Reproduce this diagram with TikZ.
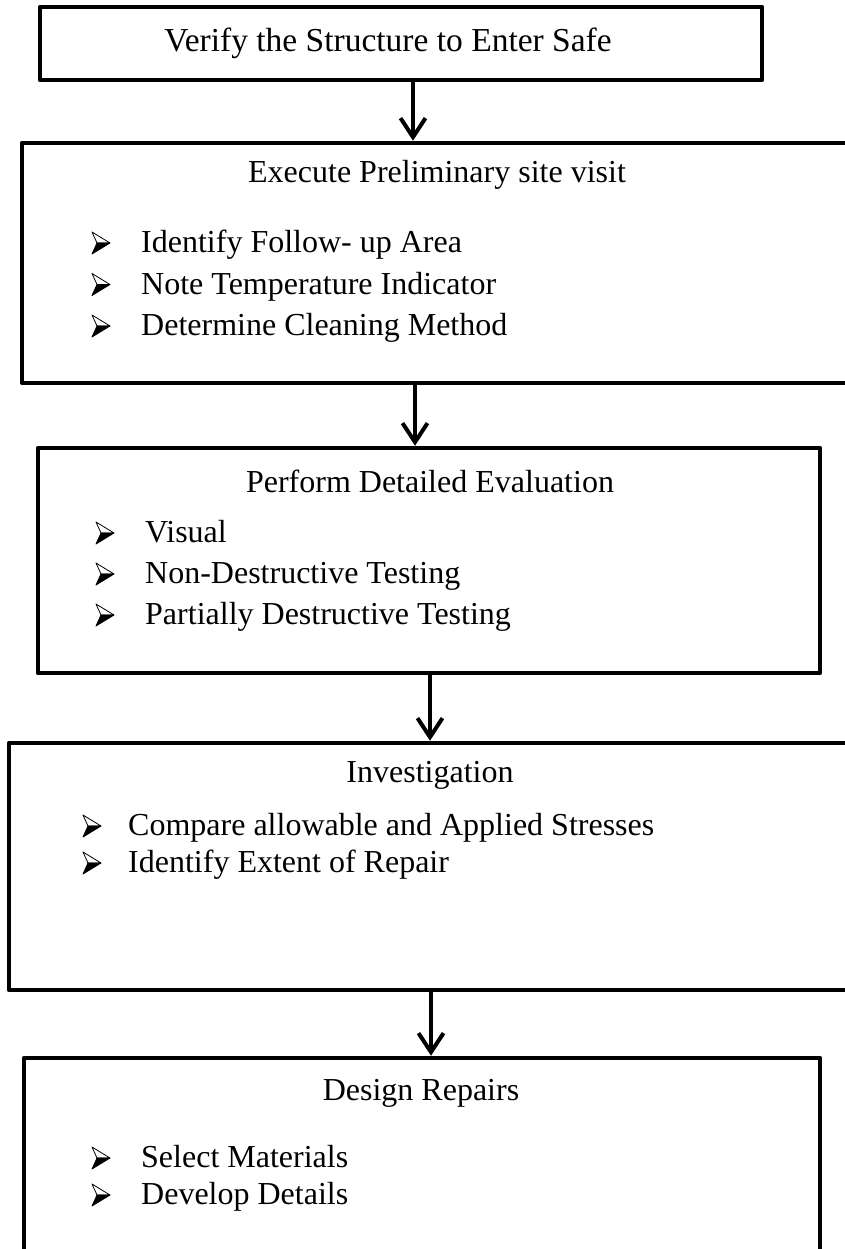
\documentclass[tikz,border=0pt]{standalone}
\usepackage{fontspec}
\setmainfont{Liberation Serif}
\usetikzlibrary{arrows.meta}
\tikzset{
  stage/.style={draw, line width=4.5pt, line join=round, inner sep=0pt},
  heading/.style={inner sep=0pt, font=\fontsize{32}{38}\selectfont},
  item/.style={anchor=west, inner sep=0pt, font=\fontsize{32}{38}\selectfont, text height=22pt, text depth=7pt},
  flow/.style={-{Straight Barb[length=19pt, width=25pt]}, line width=4pt},
  arrowbullet/.pic={
    \filldraw[fill=white, line width=0.8pt, line join=round] (-9,-11) -- (9,0) -- (-4,0) -- cycle;
    \filldraw[line width=0.8pt, line join=round] (-4,0) -- (9,0) -- (-9,11) -- cycle;
  }
}
\begin{document}
\begin{tikzpicture}[x=1pt, y=-1pt]
    \useasboundingbox (0,0) rectangle (845,1249);
    \clip (0,0) rectangle (845,1249);
    % stage boxes
    \node[stage, minimum width=722pt, minimum height=73pt] (verify) at (401,43.5) {};
    \node[stage, minimum width=848pt, minimum height=240pt] (visit) at (446,263) {};
    \node[stage, minimum width=782pt, minimum height=225pt] (evaluation) at (429,560.5) {};
    \node[stage, minimum width=861pt, minimum height=247pt] (investigation) at (439.5,866.5) {};
    \node[stage, minimum width=796pt, minimum height=232pt] (design) at (422,1174) {};
    % headings
    \node[heading, font=\fontsize{33.5}{40}\selectfont] (verify-t) at (388,43) {Verify the Structure to Enter Safe};
    \node[heading] (visit-t) at (437,175) {Execute Preliminary site visit};
    \node[heading] (evaluation-t) at (430,481) {Perform Detailed Evaluation};
    \node[heading] (investigation-t) at (430,775) {Investigation};
    \node[heading] (design-t) at (421,1093) {Design Repairs};
    % bullet lists
    \foreach \txt [count=\i] in {Identify Follow- up Area, Note Temperature Indicator, Determine Cleaning Method}{
        \node[item] (visit-\i) at (141,203.5+41.5*\i) {\txt};
        \pic at ([xshift=-40pt, yshift=2pt]visit-\i.west) {arrowbullet};
    }
    \foreach \txt [count=\i] in {Visual, Non-Destructive Testing, Partially Destructive Testing}{
        \node[item] (evaluation-\i) at (145,494+41*\i) {\txt};
        \pic at ([xshift=-40pt, yshift=2pt]evaluation-\i.west) {arrowbullet};
    }
    \foreach \txt [count=\i] in {Compare allowable and Applied Stresses, Identify Extent of Repair}{
        \node[item] (investigation-\i) at (128,791+37*\i) {\txt};
        \pic at ([xshift=-36pt, yshift=2pt]investigation-\i.west) {arrowbullet};
    }
    \foreach \txt [count=\i] in {Select Materials, Develop Details}{
        \node[item] (design-\i) at (141,1123+37*\i) {\txt};
        \pic at ([xshift=-40pt, yshift=2pt]design-\i.west) {arrowbullet};
    }
    % connectors
    \coordinate (a1) at (413,0);
    \coordinate (a2) at (415,0);
    \coordinate (a3) at (430,0);
    \coordinate (a4) at (431,0);
    \draw[flow] (verify.south -| a1) -- (visit.north -| a1);
    \draw[flow] (visit.south -| a2) -- (evaluation.north -| a2);
    \draw[flow] (evaluation.south -| a3) -- (investigation.north -| a3);
    \draw[flow] (investigation.south -| a4) -- (design.north -| a4);
\end{tikzpicture}
\end{document}
